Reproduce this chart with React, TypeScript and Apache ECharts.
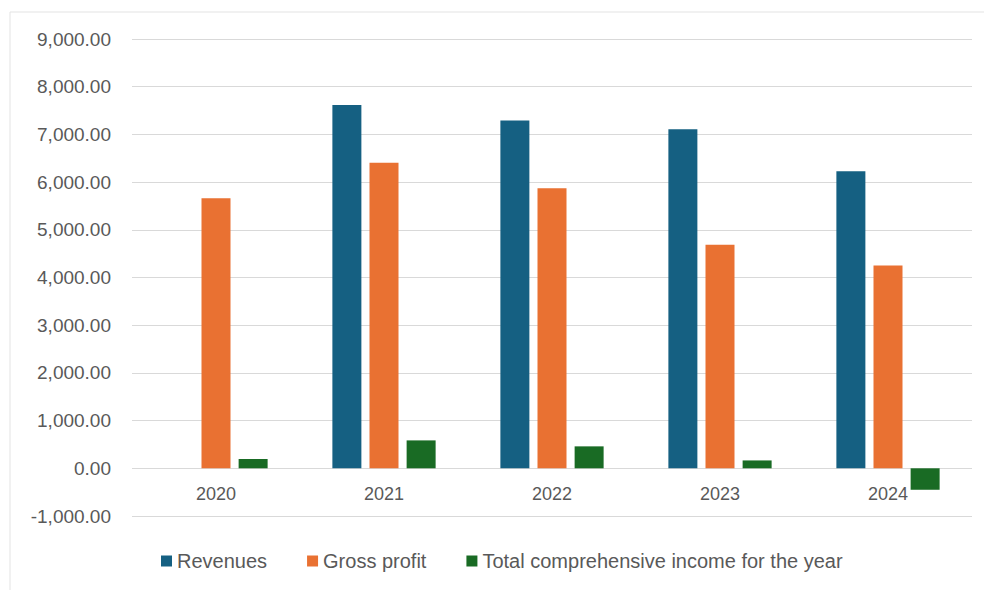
import React, { useEffect, useRef } from "react";
import * as echarts from "echarts";

const categories = ["2020", "2021", "2022", "2023", "2024"];
const revenues = [null, 7615, 7290, 7110, 6230];
const grossProfit = [5660, 6405, 5870, 4685, 4250];
const totalIncome = [195, 585, 460, 165, -450];
const seriesNames = ["Revenues", "Gross profit", "Total comprehensive income for the year"];
const colors = ["#156082", "#E97132", "#196B24"];

export default function App() {
  const ref = useRef<HTMLDivElement>(null);
  useEffect(() => {
    if (!ref.current) return;
    const chart = echarts.init(ref.current, null, { renderer: "svg" });
    const font = "Liberation Sans, Arial, sans-serif";
    const mk = (name: string, data: (number | null)[], color: string) => ({
      name,
      type: "bar",
      data: data.map((v) => (v === null ? "-" : v)),
      barWidth: 29,
      barGap: "28%",
      itemStyle: { color },
    });
    chart.setOption({
      animation: false,
      backgroundColor: "#ffffff",
      graphic: [
        {
          type: "rect",
          shape: { x: 10, y: 12, width: 1000, height: 600 },
          style: { fill: "none", stroke: "#E3E3E3", lineWidth: 1 },
          silent: true,
        },
      ],
      grid: { left: 132, right: 12, top: 39, bottom: 74 },
      legend: {
        left: 156,
        top: 546,
        itemWidth: 11,
        itemHeight: 11,
        itemGap: 40,
        icon: "rect",
        textStyle: { color: "#595959", fontSize: 20, fontFamily: font },
        data: seriesNames,
      },
      xAxis: {
        type: "category",
        data: categories,
        axisLine: { show: false, onZero: false },
        axisTick: { show: false },
        axisLabel: { color: "#595959", fontSize: 18, fontFamily: font, margin: -31 },
      },
      yAxis: {
        type: "value",
        min: -1000,
        max: 9000,
        interval: 1000,
        axisLine: { show: false },
        axisTick: { show: false },
        splitLine: { lineStyle: { color: "#D9D9D9", width: 1 } },
        axisLabel: {
          color: "#595959",
          fontSize: 19,
          fontFamily: font,
          margin: 21,
          formatter: (v: number) =>
            v.toLocaleString("en-US", { minimumFractionDigits: 2, maximumFractionDigits: 2 }),
        },
      },
      series: [
        mk(seriesNames[0], revenues, colors[0]),
        mk(seriesNames[1], grossProfit, colors[1]),
        mk(seriesNames[2], totalIncome, colors[2]),
      ],
    });
    return () => chart.dispose();
  }, []);
  return <div ref={ref} style={{ width: 984, height: 590, position: "absolute", left: 0, top: 0 }} />;
}
